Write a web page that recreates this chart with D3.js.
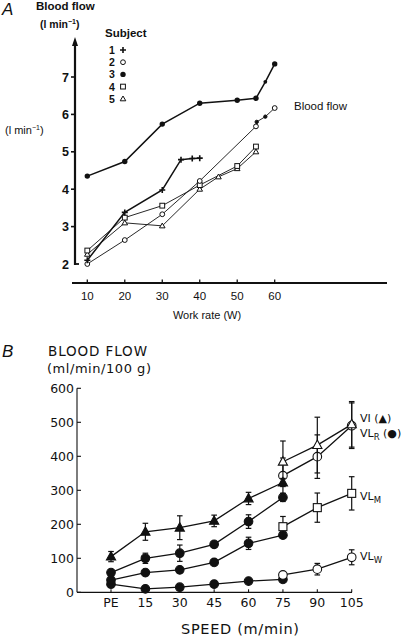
<!DOCTYPE html>
<html><head><meta charset="utf-8">
<script src="https://cdn.jsdelivr.net/npm/d3@7"></script>
<style>body{margin:0;background:#fff}svg{display:block}text{fill:#111}</style>
</head><body>
<svg id="c" width="404" height="636"></svg>
<script>
// ---------- Panel A data ----------
const workTicks = [10, 20, 30, 40, 50, 60];
const flowTicksA = [2, 3, 4, 5, 6, 7];
const subjects = ["1", "2", "3", "4", "5"];
const subj1 = [[10, 2.1], [20, 3.38], [30, 3.98], [35, 4.79], [38, 4.82], [40, 4.83]];
const subj2 = [[10, 2.0], [20, 2.64], [30, 3.33], [40, 4.22], [55, 5.68], [55.2, 5.8], [57.5, 5.94], [60, 6.17]];
const subj3 = [[10, 4.35], [20, 4.74], [30, 5.74], [40, 6.3], [50, 6.38], [55, 6.43], [57.5, 6.87], [60, 7.35]];
const subj4 = [[10, 2.36], [20, 3.24], [30, 3.56], [40, 4.11], [50, 4.62], [55, 5.14]];
const subj5 = [[10, 2.26], [20, 3.1], [30, 3.02], [40, 4.0], [45, 4.33], [50, 4.55], [55, 5.0]];

// ---------- Panel B data ----------
const speeds = ["PE", "15", "30", "45", "60", "75", "90", "105"];
const flowTicksB = [0, 100, 200, 300, 400, 500, 600];
const filledSpeeds = ["PE", "15", "30", "45", "60", "75"];
const openSpeeds = ["75", "90", "105"];
const viFilled = [105, 178, 190, 210, 276, 323];
const viFilledErr = [15, 25, 35, 17, 18, 12];
const viOpen = [384, 433, 494];
const viOpenErr = [61, 82, 67];
const vlrFilled = [58, 100, 115, 141, 208, 279];
const vlrFilledErr = [8, 15, 24, 5, 20, 12];
const vlrOpen = [343, 399, 490];
const vlrOpenErr = [52, 64, 67];
const vlmFilled = [36, 58, 66, 88, 144, 168];
const vlmFilledErr = [7, 5, 5, 5, 18, 8];
const vlmOpen = [193, 249, 291];
const vlmOpenErr = [30, 43, 49];
const vlwFilled = [24, 10, 15, 24, 33, 38];
const vlwFilledErr = [10, 4, 4, 6, 5, 5];
const vlwOpen = [51, 68, 103];
const vlwOpenErr = [5, 17, 22];

const svg = d3.select("#c");
const FA = "'Liberation Sans', Arial, sans-serif";
const FB = "'DejaVu Sans', 'Liberation Sans', sans-serif";

// ================= PANEL A =================
const xA = d3.scaleLinear().domain([10, 60]).range([87.3, 274.7]);
const yA = d3.scaleLinear().domain([2, 7]).range([264, 77]);
const gA = svg.append("g");

gA.append("text").attr("x", 2).attr("y", 15).attr("font-family", FA).attr("font-style", "italic")
  .attr("font-size", 17).text("A");
gA.append("text").attr("x", 36).attr("y", 10).attr("font-family", FA).attr("font-weight", "bold")
  .attr("font-size", 11.5).text("Blood flow");
gA.append("text").attr("x", 40).attr("y", 28).attr("font-family", FA).attr("font-weight", "bold")
  .attr("font-size", 10.5).html("(l min<tspan dy='-4' font-size='7'>−1</tspan><tspan dy='4'>)</tspan>");
gA.append("text").attr("x", 5).attr("y", 134).attr("font-family", FA)
  .attr("font-size", 11).html("(l min<tspan dy='-4' font-size='7'>−1</tspan><tspan dy='4'>)</tspan>");
gA.append("text").attr("x", 294).attr("y", 110).attr("font-family", FA)
  .attr("font-size", 11.5).text("Blood flow");

// y axis
gA.append("line").attr("x1", 75).attr("x2", 75).attr("y1", 42).attr("y2", yA(2) + 1)
  .attr("stroke", "#111").attr("stroke-width", 2.2);
gA.append("path").attr("d", "M75,37 L72,46 L78,46 Z").attr("fill", "#111");
flowTicksA.forEach(v => {
  const y = yA(v);
  if (v === 2) {
    gA.append("line").attr("x1", 74).attr("x2", 79).attr("y1", y).attr("y2", y).attr("stroke", "#111").attr("stroke-width", 1.8);
  } else {
    gA.append("line").attr("x1", 71).attr("x2", 75).attr("y1", y).attr("y2", y).attr("stroke", "#111").attr("stroke-width", 1.6);
  }
  gA.append("text").attr("x", 69).attr("y", y + 4.5).attr("text-anchor", "end").attr("font-family", FA)
    .attr("font-weight", "bold").attr("font-size", 12.5).text(v);
});

// x axis
gA.append("line").attr("x1", 72).attr("x2", 387).attr("y1", 283).attr("y2", 283)
  .attr("stroke", "#111").attr("stroke-width", 1.8);
workTicks.forEach(v => {
  gA.append("line").attr("x1", xA(v)).attr("x2", xA(v)).attr("y1", 283).attr("y2", 279.5)
    .attr("stroke", "#111").attr("stroke-width", 1.3);
  gA.append("text").attr("x", xA(v)).attr("y", 300).attr("text-anchor", "middle").attr("font-family", FA)
    .attr("font-size", 11.5).text(v);
});
gA.append("text").attr("x", 207).attr("y", 319).attr("text-anchor", "middle").attr("font-family", FA)
  .attr("font-size", 11).text("Work rate (W)");

// legend
gA.append("text").attr("x", 105).attr("y", 37).attr("font-family", FA).attr("font-weight", "bold")
  .attr("font-size", 11.5).text("Subject");

function markerA(g, kind, x, y, small) {
  const k = small ? 0.7 : 1;
  if (kind === "plus") {
    g.append("path").attr("d", `M${x - 3},${y}H${x + 3}M${x},${y - 3}V${y + 3}`).attr("stroke", "#111").attr("stroke-width", 1.6);
  } else if (kind === "open") {
    g.append("circle").attr("cx", x).attr("cy", y).attr("r", 2.4 * k).attr("fill", small ? "#111" : "#fff").attr("stroke", "#111").attr("stroke-width", 1);
  } else if (kind === "filled") {
    g.append("circle").attr("cx", x).attr("cy", y).attr("r", 2.7 * k).attr("fill", "#111");
  } else if (kind === "square") {
    g.append("rect").attr("x", x - 2.4).attr("y", y - 2.4).attr("width", 4.8).attr("height", 4.8).attr("fill", "#fff").attr("stroke", "#111").attr("stroke-width", 1);
  } else if (kind === "tri") {
    g.append("path").attr("d", `M${x},${y - 2.8}L${x + 2.8},${y + 2}L${x - 2.8},${y + 2}Z`).attr("fill", "#fff").attr("stroke", "#111").attr("stroke-width", 1);
  }
}
const kinds = ["plus", "open", "filled", "square", "tri"];
subjects.forEach((s, i) => {
  const y = 50 + i * 12.2;
  gA.append("text").attr("x", 109).attr("y", y + 4).attr("font-family", FA).attr("font-weight", "bold")
    .attr("font-size", 10.5).text(s);
  markerA(gA, kinds[i], 123, y);
});

const lineA = d3.line().x(d => xA(d[0])).y(d => yA(d[1]));
const seriesA = [
  { data: subj5, kind: "tri", w: 0.9 },
  { data: subj4, kind: "square", w: 0.9 },
  { data: subj2, kind: "open", w: 0.9 },
  { data: subj1, kind: "plus", w: 1.5 },
  { data: subj3, kind: "filled", w: 1.5 }
];
seriesA.forEach(s => {
  gA.append("path").attr("d", lineA(s.data)).attr("fill", "none").attr("stroke", "#111").attr("stroke-width", s.w);
});
seriesA.forEach(s => {
  // points off the 5-W grid are drawn as small intermediate dots
  s.data.forEach(d => markerA(gA, s.kind, xA(d[0]), yA(d[1]), d[0] % 5 !== 0));
});

// ================= PANEL B =================
const xB = d3.scalePoint().domain(speeds).range([111, 351.7]);
const yB = d3.scaleLinear().domain([0, 600]).range([592.3, 388.3]);
const gB = svg.append("g");

gB.append("text").attr("x", 2).attr("y", 357).attr("font-family", FA).attr("font-style", "italic")
  .attr("font-size", 17).text("B");
gB.append("text").attr("x", 48).attr("y", 355.5).attr("font-family", FB)
  .attr("font-size", 13.5).attr("textLength", 99).text("BLOOD FLOW");
gB.append("text").attr("x", 47).attr("y", 373).attr("font-family", FB)
  .attr("font-size", 13).attr("textLength", 104).text("(ml/min/100 g)");

// y axis
gB.append("line").attr("x1", 77).attr("x2", 77).attr("y1", yB(600)).attr("y2", yB(0))
  .attr("stroke", "#111").attr("stroke-width", 1.1);
flowTicksB.forEach(v => {
  const y = yB(v);
  gB.append("line").attr("x1", 77).attr("x2", 81).attr("y1", y).attr("y2", y).attr("stroke", "#111").attr("stroke-width", 1.1);
  gB.append("text").attr("x", 74).attr("y", y + 4.5).attr("text-anchor", "end").attr("font-family", FB)
    .attr("font-size", 12.5).text(v);
});
// x axis
gB.append("line").attr("x1", 77).attr("x2", 352).attr("y1", yB(0)).attr("y2", yB(0))
  .attr("stroke", "#111").attr("stroke-width", 1.2);
speeds.forEach(s => {
  gB.append("line").attr("x1", xB(s)).attr("x2", xB(s)).attr("y1", yB(0)).attr("y2", yB(0) - 3)
    .attr("stroke", "#111").attr("stroke-width", 1.1);
  gB.append("text").attr("x", xB(s)).attr("y", 607).attr("text-anchor", "middle").attr("font-family", FB)
    .attr("font-size", 12.5).text(s);
});
gB.append("text").attr("x", 240).attr("y", 634).attr("text-anchor", "middle").attr("font-family", FB)
  .attr("font-size", 14.5).attr("textLength", 118).text("SPEED (m/min)");

const lineB = d3.line().x(d => xB(d.s)).y(d => yB(d.v));
function toPts(sp, vals, errs) { return sp.map((s, i) => ({ s, v: vals[i], e: errs[i] })); }

function markerB(g, shape, filled, x, y) {
  const fill = filled ? "#111" : "#fff";
  if (shape === "tri") {
    g.append("path").attr("d", `M${x},${y - 5}L${x + 4.6},${y + 3.4}L${x - 4.6},${y + 3.4}Z`)
      .attr("fill", fill).attr("stroke", "#111").attr("stroke-width", 1.1);
  } else if (shape === "square" && !filled) {
    g.append("rect").attr("x", x - 4).attr("y", y - 4).attr("width", 8).attr("height", 8)
      .attr("fill", fill).attr("stroke", "#111").attr("stroke-width", 1.1);
  } else {
    g.append("circle").attr("cx", x).attr("cy", y).attr("r", 4.3)
      .attr("fill", fill).attr("stroke", "#111").attr("stroke-width", 1.1);
  }
}

function drawSeries(pts, shape, filled) {
  gB.append("path").attr("d", lineB(pts)).attr("fill", "none").attr("stroke", "#111").attr("stroke-width", 1.3);
  pts.forEach(p => {
    const x = xB(p.s);
    const y1 = yB(p.v + p.e), y2 = yB(p.v - p.e);
    gB.append("line").attr("x1", x).attr("x2", x).attr("y1", y1).attr("y2", y2).attr("stroke", "#111").attr("stroke-width", 1.2);
    gB.append("line").attr("x1", x - 2.8).attr("x2", x + 2.8).attr("y1", y1).attr("y2", y1).attr("stroke", "#111").attr("stroke-width", 1.2);
    gB.append("line").attr("x1", x - 2.8).attr("x2", x + 2.8).attr("y1", y2).attr("y2", y2).attr("stroke", "#111").attr("stroke-width", 1.2);
  });
  pts.forEach(p => markerB(gB, shape, filled, xB(p.s), yB(p.v)));
}

drawSeries(toPts(filledSpeeds, vlwFilled, vlwFilledErr), "circle", true);
drawSeries(toPts(openSpeeds, vlwOpen, vlwOpenErr), "circle", false);
drawSeries(toPts(filledSpeeds, vlmFilled, vlmFilledErr), "square", true);
drawSeries(toPts(openSpeeds, vlmOpen, vlmOpenErr), "square", false);
drawSeries(toPts(filledSpeeds, vlrFilled, vlrFilledErr), "circle", true);
drawSeries(toPts(openSpeeds, vlrOpen, vlrOpenErr), "circle", false);
drawSeries(toPts(filledSpeeds, viFilled, viFilledErr), "tri", true);
drawSeries(toPts(openSpeeds, viOpen, viOpenErr), "tri", false);

// right labels
const lx = 360;
const LF = 11;
gB.append("text").attr("x", lx).attr("y", 422).attr("font-family", FB).attr("font-size", LF).text("VI (▲)");
gB.append("text").attr("x", lx).attr("y", 437).attr("font-family", FB).attr("font-size", LF)
  .html("VL<tspan dy='2.5' font-size='8.5'>R</tspan><tspan dy='-2.5'> (●)</tspan>");
gB.append("text").attr("x", lx).attr("y", 500).attr("font-family", FB).attr("font-size", LF)
  .html("VL<tspan dy='2.5' font-size='8.5'>M</tspan>");
gB.append("text").attr("x", lx).attr("y", 560).attr("font-family", FB).attr("font-size", LF)
  .html("VL<tspan dy='2.5' font-size='8.5'>W</tspan>");
</script>
</body></html>
